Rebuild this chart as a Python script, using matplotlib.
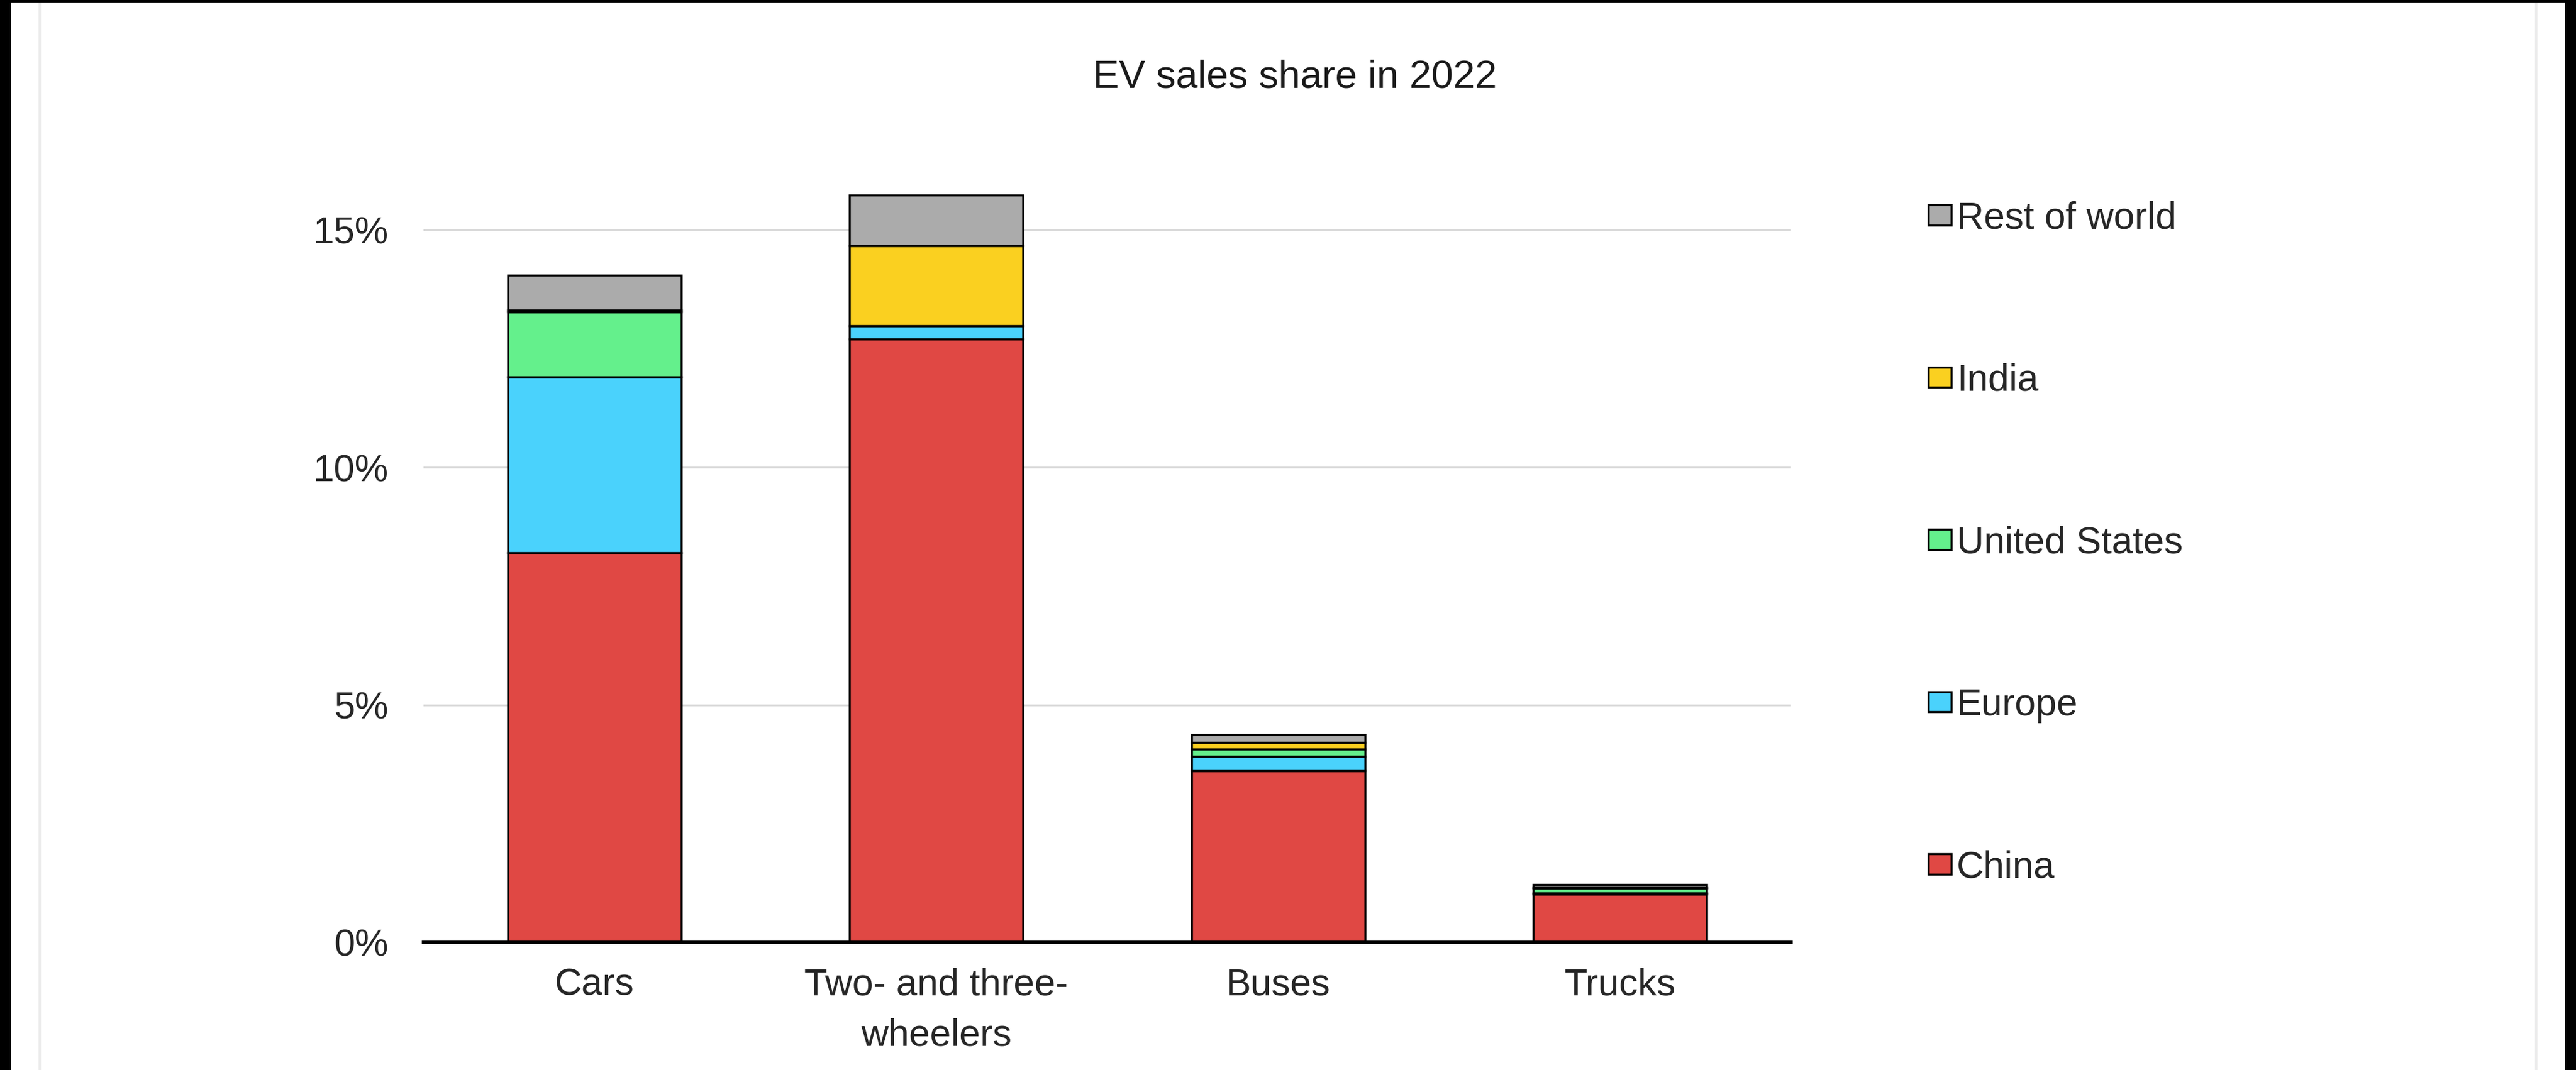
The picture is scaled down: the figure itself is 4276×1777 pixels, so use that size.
import matplotlib
matplotlib.use("Agg")
import matplotlib.pyplot as plt
import numpy as np
from matplotlib.patches import Rectangle
from matplotlib.lines import Line2D

plt.rcParams['font.family'] = ['Liberation Sans', 'DejaVu Sans']

categories = ["Cars", "Two- and three-\nwheelers", "Buses", "Trucks"]
series_names = ["China", "Europe", "United States", "India", "Rest of world"]
china = [8.2, 12.7, 3.61, 1.01]
europe = [3.7, 0.28, 0.31, 0.03]
united_states = [1.38, 0.0, 0.15, 0.10]
india = [0.03, 1.69, 0.14, 0.02]
rest_of_world = [0.74, 1.07, 0.17, 0.06]
yticks = [0, 5, 10, 15]
ytick_labels = ["0%", "5%", "10%", "15%"]
title = "EV sales share in 2022"

colors = ["#E04844", "#4AD2FC", "#64F08C", "#FAD020", "#ABABAB"]
series = [china, europe, united_states, india, rest_of_world]

W, H = 4276, 1777
fig = plt.figure(figsize=(W / 100, H / 100), dpi=100)
fig.patch.set_facecolor("white")

ax = fig.add_axes([703 / W, 212 / H, (2973 - 703) / W, (1474 - 212) / H])
x = np.arange(len(categories))
bottom = np.zeros(len(categories))
handles = []
for name, vals, col in zip(series_names, series, colors):
    vals = np.array(vals, dtype=float)
    b = ax.bar(x, vals, width=0.507, bottom=bottom, color=col,
               edgecolor="black", linewidth=2.5, label=name, zorder=3)
    handles.append(b)
    bottom += vals

ax.set_xlim(-0.5, 3.5)
ax.set_ylim(0, 16)
ax.set_yticks(yticks)
ax.set_yticklabels(ytick_labels)
ax.set_xticks(x)
ax.set_xticklabels(categories, linespacing=1.53)
ax.yaxis.grid(True, color="#D9D9D9", linewidth=2.2, zorder=0)
ax.set_axisbelow(True)
for s in ["top", "right", "left"]:
    ax.spines[s].set_visible(False)
ax.spines["bottom"].set_linewidth(4)
ax.spines["bottom"].set_color("black")
ax.spines["bottom"].set_zorder(4)
ax.tick_params(axis="both", length=0, labelsize=45, colors="#262626")
ax.tick_params(axis="y", pad=42)
ax.tick_params(axis="x", pad=30)

fig.text(2149 / W, 1 - 128 / H, title, ha="center", va="center",
         fontsize=47, color="#1a1a1a")

leg = fig.legend(handles[::-1], series_names[::-1], loc="upper left",
                 bbox_to_anchor=(3201 / W, 1 - 333 / H), frameon=False,
                 fontsize=45, labelspacing=3.37, handlelength=0.6,
                 handleheight=0.45, handletextpad=0.15, borderpad=0,
                 borderaxespad=0, labelcolor="#262626")

# dark border strips of the screenshot
fig.patches.append(Rectangle((0, 0), 17 / W, 1, transform=fig.transFigure,
                             color="black", zorder=10))
fig.patches.append(Rectangle((1 - 18 / W, 0), 18 / W, 1, transform=fig.transFigure,
                             color="black", zorder=10))
fig.patches.append(Rectangle((0, 1 - 3 / H), 1, 3 / H, transform=fig.transFigure,
                             color="black", zorder=10))
fig.lines.append(Line2D([66 / W, 66 / W], [0, 1], transform=fig.transFigure,
                        color="#ECECEC", linewidth=3))
fig.lines.append(Line2D([4210 / W, 4210 / W], [0, 1], transform=fig.transFigure,
                        color="#ECECEC", linewidth=3))

fig.savefig("out.png", dpi=100, facecolor="white")
